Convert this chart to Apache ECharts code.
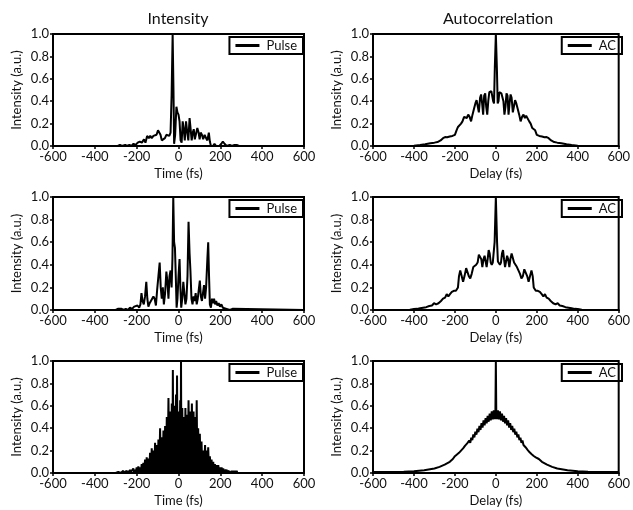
<!DOCTYPE html>
<html><head><meta charset="utf-8">
<script src="https://cdn.jsdelivr.net/npm/echarts@6/dist/echarts.min.js"></script>
<style>html,body{margin:0;padding:0;background:#fff}#c{width:633px;height:510px}</style>
</head><body><div id="c"></div>
<script>
const xTicks = [-600, -400, -200, 0, 200, 400, 600];
const yTicks = [0.0, 0.2, 0.4, 0.6, 0.8, 1.0];
const columnTitles = ['Intensity', 'Autocorrelation'];
const xNames = ['Time (fs)', 'Delay (fs)'];
const yName = 'Intensity (a.u.)';
const seriesNames = ['Pulse', 'AC'];

const pulseA = [[-600,0],[-290,0],[-280,0.01],[-270,0],[-255,0.01],[-245,0],[-235,0.01],[-225,0.0],[-215,0.02],[-205,0.01],[-195,0.03],[-185,0.04],[-175,0.03],[-165,0.06],[-158,0.03],[-150,0.09],[-142,0.07],[-135,0.09],[-128,0.07],[-120,0.09],[-112,0.08],[-105,0.1],[-98,0.14],[-92,0.15],[-86,0.1],[-80,0.05],[-72,0.05],[-65,0.07],[-58,0.1],[-50,0.11],[-44,0.09],[-38,0.12],[-33,0.45],[-28,1.0],[-24,0.5],[-21,0.02],[-16,0.1],[-10,0.35],[-5,0.3],[0,0.28],[5,0.22],[10,0.05],[15,0.03],[20,0.22],[25,0.15],[30,0.05],[36,0.22],[42,0.12],[47,0.05],[53,0.25],[58,0.15],[63,0.05],[68,0.12],[73,0.15],[78,0.06],[84,0.05],[90,0.16],[96,0.12],[101,0.06],[106,0.12],[112,0.1],[118,0.06],[125,0.1],[132,0.07],[138,0.05],[145,0.12],[150,0.04],[155,0.0],[165,0.0],[172,0.02],[180,0.0],[195,0.0],[205,0.02],[212,0.04],[220,0.02],[230,0.0],[245,0.01],[255,0.0],[268,0.01],[278,0.01],[290,0],[600,0]];

const acA = [[-600,0],[-450,0],[-400,0.003],[-370,0.008],[-345,0.015],[-320,0.025],[-300,0.03],[-285,0.035],[-270,0.05],[-258,0.07],[-248,0.08],[-238,0.078],[-225,0.085],[-212,0.09],[-200,0.1],[-192,0.14],[-185,0.17],[-178,0.16],[-170,0.2],[-163,0.22],[-155,0.26],[-148,0.27],[-142,0.25],[-135,0.28],[-128,0.26],[-121,0.22],[-114,0.28],[-107,0.33],[-100,0.38],[-94,0.41],[-88,0.35],[-83,0.3],[-77,0.43],[-72,0.46],[-67,0.38],[-62,0.28],[-57,0.45],[-52,0.47],[-47,0.35],[-42,0.28],[-37,0.4],[-32,0.48],[-27,0.47],[-22,0.49],[-17,0.48],[-13,0.4],[-9,0.38],[-5,0.7],[0,1.0],[5,0.7],[9,0.38],[13,0.4],[17,0.48],[22,0.49],[27,0.47],[32,0.48],[37,0.4],[42,0.28],[47,0.35],[52,0.47],[57,0.45],[62,0.28],[67,0.38],[72,0.46],[77,0.43],[83,0.3],[88,0.35],[94,0.41],[100,0.38],[107,0.33],[114,0.28],[121,0.22],[128,0.26],[135,0.28],[142,0.25],[148,0.27],[155,0.26],[163,0.22],[170,0.2],[178,0.16],[185,0.17],[192,0.14],[200,0.1],[212,0.09],[225,0.085],[238,0.078],[248,0.08],[258,0.07],[270,0.05],[285,0.035],[300,0.03],[320,0.025],[345,0.015],[370,0.008],[400,0.003],[450,0],[600,0]];

const pulseB = [[-600,0],[-300,0],[-290,0.01],[-282,0],[-272,0.01],[-262,0],[-252,0.01],[-242,0.0],[-232,0.02],[-222,0.01],[-212,0.03],[-204,0.02],[-196,0.04],[-188,0.02],[-182,0.05],[-177,0.15],[-172,0.08],[-166,0.05],[-160,0.12],[-154,0.25],[-149,0.1],[-144,0.03],[-138,0.06],[-132,0.05],[-126,0.1],[-120,0.12],[-114,0.1],[-108,0.04],[-102,0.18],[-96,0.3],[-90,0.42],[-85,0.2],[-80,0.1],[-75,0.2],[-70,0.05],[-64,0.15],[-58,0.34],[-53,0.25],[-48,0.1],[-43,0.3],[-38,0.35],[-33,0.2],[-29,0.45],[-25,1.0],[-21,0.6],[-17,0.55],[-13,0.3],[-9,0.02],[-5,0.1],[0,0.3],[5,0.45],[9,0.2],[13,0.02],[18,0.1],[23,0.25],[28,0.15],[33,0.05],[38,0.1],[43,0.3],[48,0.78],[53,0.5],[57,0.35],[62,0.1],[67,0.05],[72,0.12],[77,0.08],[82,0.15],[87,0.05],[92,0.1],[97,0.18],[102,0.26],[107,0.12],[112,0.08],[117,0.15],[122,0.22],[127,0.1],[132,0.2],[138,0.45],[142,0.6],[146,0.3],[150,0.05],[155,0.02],[160,0.1],[165,0.06],[170,0.1],[175,0.05],[180,0.08],[186,0.04],[192,0.06],[198,0.03],[205,0.05],[212,0.02],[220,0.03],[230,0.01],[245,0.0],[258,0.01],[265,0],[600,0]];

const acB = [[-600,0],[-450,0],[-420,0.003],[-400,0.008],[-385,0.01],[-370,0.015],[-355,0.02],[-340,0.025],[-325,0.035],[-312,0.04],[-302,0.06],[-292,0.05],[-280,0.06],[-268,0.08],[-258,0.1],[-248,0.11],[-240,0.14],[-232,0.12],[-224,0.14],[-215,0.16],[-205,0.17],[-195,0.17],[-185,0.2],[-180,0.3],[-174,0.35],[-167,0.3],[-160,0.25],[-153,0.3],[-145,0.37],[-139,0.36],[-132,0.3],[-125,0.28],[-118,0.32],[-110,0.38],[-103,0.38],[-96,0.4],[-89,0.42],[-83,0.49],[-77,0.5],[-71,0.45],[-66,0.38],[-60,0.45],[-55,0.48],[-50,0.43],[-45,0.38],[-40,0.45],[-35,0.53],[-30,0.5],[-25,0.42],[-20,0.4],[-15,0.42],[-10,0.43],[-6,0.6],[0,1.0],[6,0.6],[10,0.43],[15,0.42],[20,0.4],[25,0.42],[30,0.5],[35,0.53],[40,0.45],[45,0.38],[50,0.43],[55,0.48],[60,0.45],[66,0.38],[71,0.45],[77,0.5],[83,0.49],[89,0.42],[96,0.4],[103,0.38],[110,0.38],[118,0.32],[125,0.28],[132,0.3],[139,0.36],[145,0.37],[153,0.3],[160,0.25],[167,0.3],[174,0.35],[180,0.3],[185,0.2],[195,0.17],[205,0.17],[215,0.16],[224,0.14],[232,0.12],[240,0.14],[248,0.11],[258,0.1],[268,0.08],[280,0.06],[292,0.05],[302,0.06],[312,0.04],[325,0.035],[340,0.025],[355,0.02],[370,0.015],[385,0.01],[400,0.008],[420,0.003],[450,0],[600,0]];

const pulseC = [[-600,0.0],[-300,0.0],[-296,0.01],[-292,0],[-288,0.01],[-284,0],[-280,0.015],[-276,0],[-272,0.01],[-268,0],[-264,0.02],[-260,0],[-256,0.015],[-252,0],[-248,0.02],[-244,0],[-240,0.02],[-236,0],[-232,0.03],[-228,0],[-224,0.02],[-220,0.01],[-216,0.04],[-212,0],[-208,0.03],[-204,0.01],[-200,0.05],[-196,0],[-192,0.06],[-188,0.01],[-184,0.05],[-180,0],[-176,0.08],[-172,0.01],[-168,0.09],[-164,0],[-160,0.12],[-156,0.01],[-152,0.14],[-148,0],[-144,0.13],[-140,0.01],[-136,0.18],[-132,0],[-128,0.22],[-124,0.01],[-120,0.2],[-116,0],[-112,0.27],[-108,0.01],[-104,0.25],[-100,0],[-96,0.3],[-92,0.01],[-88,0.4],[-84,0],[-80,0.32],[-76,0.01],[-72,0.38],[-68,0],[-64,0.42],[-60,0.01],[-56,0.5],[-52,0],[-48,0.67],[-44,0.01],[-40,0.55],[-36,0],[-32,0.62],[-29,0.01],[-27,0.92],[-24,0],[-20,0.6],[-16,0.01],[-12,0.7],[-10,0],[-7,0.87],[-4,0.01],[0,0.55],[4,0],[8,0.65],[10,0.01],[12,1.0],[14,0],[18,0.58],[22,0.01],[26,0.5],[30,0],[33,0.58],[37,0.01],[41,0.52],[44,0],[48,0.65],[52,0.01],[56,0.55],[60,0],[64,0.62],[68,0.01],[72,0.55],[76,0],[80,0.5],[84,0.01],[87,0.65],[90,0],[94,0.4],[98,0.01],[102,0.35],[106,0],[110,0.28],[114,0.01],[118,0.2],[122,0],[127,0.25],[130,0.01],[134,0.2],[138,0],[142,0.23],[146,0.01],[150,0.15],[154,0],[158,0.12],[162,0.01],[166,0.1],[170,0],[174,0.08],[178,0.01],[182,0.07],[186,0],[190,0.07],[194,0.01],[198,0.05],[202,0],[206,0.05],[210,0.01],[214,0.04],[218,0],[222,0.03],[226,0.01],[230,0.03],[234,0],[238,0.02],[242,0.01],[246,0.03],[250,0],[254,0.02],[258,0],[262,0.02],[266,0],[270,0.02],[274,0],[278,0.02],[282,0],[286,0.01],[290,0],[600,0]];

const acC = [[-600,0.01],[-500,0.01],[-450,0.012],[-400,0.015],[-350,0.025],[-300,0.04],[-275,0.055],[-250,0.075],[-225,0.1],[-210,0.125],[-200,0.15],[-195,0.14],[-190,0.165],[-185,0.152],[-180,0.18],[-175,0.168],[-170,0.2],[-165,0.185],[-160,0.22],[-155,0.207],[-150,0.245],[-145,0.23],[-140,0.265],[-135,0.25],[-130,0.29],[-125,0.27],[-120,0.315],[-115,0.293],[-110,0.345],[-105,0.318],[-100,0.37],[-95,0.343],[-90,0.395],[-85,0.365],[-80,0.42],[-75,0.385],[-70,0.445],[-65,0.405],[-60,0.47],[-55,0.425],[-50,0.49],[-45,0.443],[-40,0.51],[-35,0.458],[-30,0.53],[-25,0.47],[-20,0.55],[-15,0.478],[-10,0.56],[-5,0.48],[-2,0.565],[0,1.0],[2,0.565],[5,0.48],[10,0.56],[15,0.478],[20,0.55],[25,0.47],[30,0.53],[35,0.458],[40,0.51],[45,0.443],[50,0.49],[55,0.425],[60,0.47],[65,0.405],[70,0.445],[75,0.385],[80,0.42],[85,0.365],[90,0.395],[95,0.343],[100,0.37],[105,0.318],[110,0.345],[115,0.293],[120,0.315],[125,0.27],[130,0.29],[135,0.25],[140,0.265],[145,0.23],[150,0.245],[155,0.207],[160,0.22],[165,0.185],[170,0.2],[175,0.168],[180,0.18],[185,0.152],[190,0.165],[195,0.14],[200,0.15],[210,0.125],[225,0.1],[250,0.075],[275,0.055],[300,0.04],[350,0.025],[400,0.015],[450,0.012],[500,0.01],[600,0.01]];

const panelData = [pulseA, acA, pulseB, acB, pulseC, acC];

const FONT = 'Lato, "Open Sans", sans-serif';
const gridPos = [
  {left: 53, top: 34, width: 251, height: 112},
  {left: 373, top: 34, width: 250, height: 112},
  {left: 53, top: 197, width: 251, height: 113},
  {left: 373, top: 197, width: 250, height: 113},
  {left: 53, top: 361, width: 251, height: 112},
  {left: 373, top: 361, width: 250, height: 112}
];
const grids = [], xAxes = [], yAxes = [], series = [], legends = [];
gridPos.forEach((g, i) => {
  const col = i % 2;
  grids.push(Object.assign({show: true, borderColor: '#000', borderWidth: 2, containLabel: false}, g));
  xAxes.push({
    type: 'value', gridIndex: i, min: xTicks[0], max: xTicks[xTicks.length - 1], interval: 200,
    name: xNames[col], nameLocation: 'middle', nameGap: 21,
    nameTextStyle: {fontFamily: FONT, fontSize: 13, color: '#111'},
    axisLine: {show: true, onZero: false, lineStyle: {color: '#000', width: 2}},
    axisTick: {show: true, length: 3, inside: false, lineStyle: {color: '#000', width: 1.5}},
    axisLabel: {fontFamily: FONT, fontSize: 13, color: '#111', margin: 4},
    splitLine: {show: false}
  });
  yAxes.push({
    type: 'value', gridIndex: i, min: yTicks[0], max: yTicks[yTicks.length - 1], interval: 0.2,
    name: yName, nameLocation: 'middle', nameGap: 30,
    nameTextStyle: {fontFamily: FONT, fontSize: 13, color: '#111'},
    axisLine: {show: true, onZero: false, lineStyle: {color: '#000', width: 2}},
    axisTick: {show: true, length: 3, lineStyle: {color: '#000', width: 1.5}},
    axisLabel: {fontFamily: FONT, fontSize: 13, color: '#111', margin: 4, formatter: v => v.toFixed(1)},
    splitLine: {show: false}
  });
  series.push({
    type: 'line', name: seriesNames[col], xAxisIndex: i, yAxisIndex: i,
    data: panelData[i], symbol: 'none', showSymbol: false, sampling: null,
    lineStyle: {color: '#000', width: 2}, itemStyle: {color: '#000'}, z: 3
  });
  legends.push({
    data: [{name: seriesNames[col], icon: 'rect'}],
    right: col === 0 ? 330 : 11, top: g.top + 3,
    orient: 'horizontal', borderColor: '#000', borderWidth: 2, padding: [2, 6, 2, 6],
    itemWidth: 24, itemHeight: 3, itemGap: 4,
    itemStyle: {color: '#000', borderWidth: 0},
    lineStyle: {width: 0},
    textStyle: {fontFamily: FONT, fontSize: 13, color: '#111', padding: [0, 0, 0, 2]},
    selectedMode: false
  });
});

const chart = echarts.init(document.getElementById('c'), null, {renderer: 'canvas'});
chart.setOption({
  animation: false,
  backgroundColor: '#fff',
  grid: grids, xAxis: xAxes, yAxis: yAxes, series: series, legend: legends,
  graphic: [
    {type: 'text', x: 178, y: 19, style: {text: columnTitles[0], fontFamily: FONT, fontSize: 16, fill: '#111', textAlign: 'center', textVerticalAlign: 'middle'}},
    {type: 'text', x: 498, y: 19, style: {text: columnTitles[1], fontFamily: FONT, fontSize: 16, fill: '#111', textAlign: 'center', textVerticalAlign: 'middle'}}
  ]
});
</script></body></html>
